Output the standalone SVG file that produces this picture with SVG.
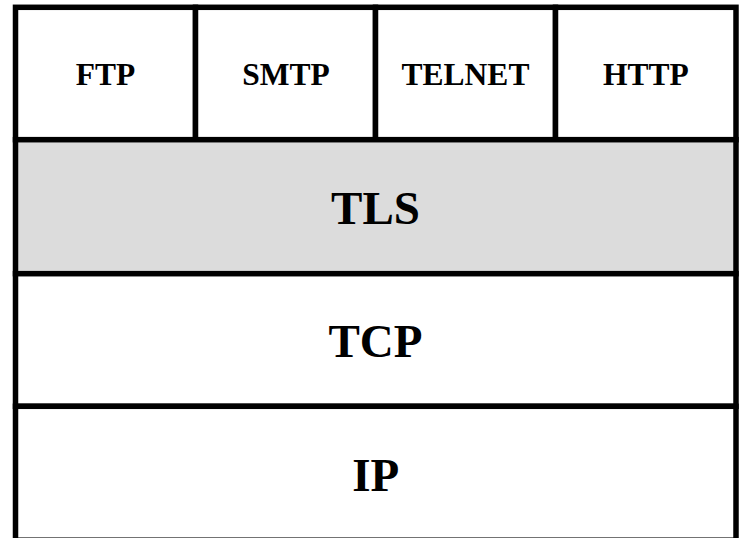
<svg xmlns="http://www.w3.org/2000/svg" width="740" height="538" viewBox="0 0 740 538">
  <style>
    .cell { fill: #ffffff; stroke: #000000; stroke-width: 5.5; }
    .shaded { fill: #dcdcdc; }
    .label { font-family: "Liberation Serif", "Times New Roman", serif; font-weight: bold; fill: #000000; text-anchor: middle; }
    .small { font-size: 31.5px; }
    .large { font-size: 47px; }
  </style>
  <rect width="740" height="538" fill="#ffffff"/>

  <!-- application protocols -->
  <g id="ftp">
    <rect class="cell" x="15.5" y="7.3" width="180" height="132.4"/>
    <text class="label small" x="105.5" y="85">FTP</text>
  </g>
  <g id="smtp">
    <rect class="cell" x="195.5" y="7.3" width="180" height="132.4"/>
    <text class="label small" x="286" y="85">SMTP</text>
  </g>
  <g id="telnet">
    <rect class="cell" x="375.5" y="7.3" width="180" height="132.4"/>
    <text class="label small" x="465.5" y="85">TELNET</text>
  </g>
  <g id="http">
    <rect class="cell" x="555.5" y="7.3" width="180.5" height="132.4"/>
    <text class="label small" x="645.8" y="85">HTTP</text>
  </g>

  <!-- security layer -->
  <g id="tls">
    <rect class="cell shaded" x="15.5" y="139.7" width="720.5" height="134"/>
    <text class="label large" x="375.5" y="224">TLS</text>
  </g>

  <!-- transport layer -->
  <g id="tcp">
    <rect class="cell" x="15.5" y="273.7" width="720.5" height="132.6"/>
    <text class="label large" x="375.5" y="356.5">TCP</text>
  </g>

  <!-- network layer -->
  <g id="ip">
    <rect class="cell" x="15.5" y="406.3" width="720.5" height="133.9"/>
    <text class="label large" x="375.7" y="490.5">IP</text>
  </g>

  <g id="connectors"/>
</svg>
